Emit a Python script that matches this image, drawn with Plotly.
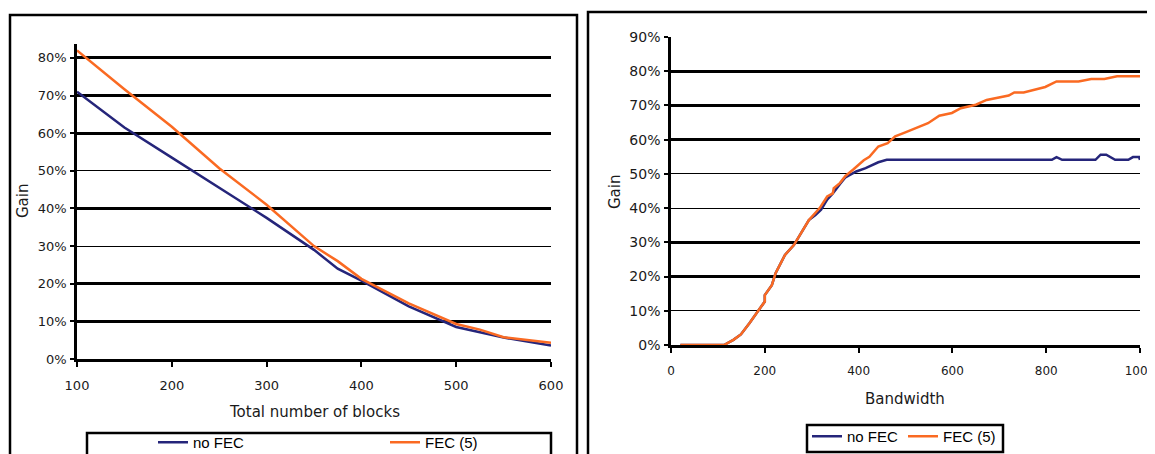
import plotly.graph_objects as go

W, H = 1155, 454
OFF = 8  # page body margin offset in the browser

# ---------------- data ----------------
# Left chart: Gain vs Total number of blocks
left_nofec_x = [100, 150, 200, 250, 300, 350, 375, 400, 450, 500, 525, 550, 600]
left_nofec_y = [0.71, 0.615, 0.535, 0.455, 0.375, 0.29, 0.24, 0.208, 0.14, 0.085, 0.072, 0.057, 0.036]
left_fec_x = [100, 150, 200, 250, 300, 325, 350, 375, 400, 450, 500, 525, 550, 600]
left_fec_y = [0.82, 0.717, 0.617, 0.507, 0.41, 0.355, 0.30, 0.26, 0.213, 0.148, 0.093, 0.078, 0.058, 0.043]

# Right chart: Gain vs Bandwidth
right_nofec_x = [20, 113, 133, 149, 168, 184, 200, 200, 215, 223, 243, 262, 282, 294, 308, 320,
                 333, 345, 360, 372, 395, 415, 442, 460, 812, 822, 834, 905, 916, 928, 947, 975,
                 985, 998, 1000]
right_nofec_y = [0, 0, 0.015, 0.031, 0.065, 0.097, 0.127, 0.146, 0.175, 0.21, 0.263, 0.292, 0.336,
                 0.365, 0.38, 0.395, 0.425, 0.443, 0.47, 0.49, 0.507, 0.517, 0.534, 0.541, 0.541,
                 0.549, 0.541, 0.541, 0.556, 0.556, 0.541, 0.541, 0.549, 0.549, 0.541]
right_fec_x = [20, 113, 133, 149, 168, 184, 200, 200, 215, 223, 243, 262, 282, 294, 317, 333, 345,
               347, 360, 372, 388, 411, 423, 442, 462, 478, 497, 521, 548, 572, 599, 618, 650, 673,
               720, 732, 752, 798, 822, 869, 896, 924, 951, 1000]
right_fec_y = [0, 0, 0.015, 0.031, 0.065, 0.097, 0.127, 0.146, 0.175, 0.21, 0.263, 0.292, 0.336,
               0.365, 0.40, 0.434, 0.443, 0.458, 0.473, 0.494, 0.512, 0.54, 0.55, 0.58, 0.59, 0.61,
               0.62, 0.634, 0.648, 0.67, 0.678, 0.692, 0.702, 0.716, 0.729, 0.738, 0.738, 0.754,
               0.77, 0.77, 0.777, 0.777, 0.785, 0.785]

left_xticks = [100, 200, 300, 400, 500, 600]
left_yticks = [0, 0.1, 0.2, 0.3, 0.4, 0.5, 0.6, 0.7, 0.8]
left_ylabels = ["0%", "10%", "20%", "30%", "40%", "50%", "60%", "70%", "80%"]
right_xticks = [0, 200, 400, 600, 800, 1000]
right_yticks = [0, 0.1, 0.2, 0.3, 0.4, 0.5, 0.6, 0.7, 0.8, 0.9]
right_ylabels = ["0%", "10%", "20%", "30%", "40%", "50%", "60%", "70%", "80%", "90%"]

series_names = ["no FEC", "FEC (5)"]
BLUE = "#25257A"
ORANGE = "#FA6A22"

# ---------------- helpers ----------------
def px(x):
    return (x - OFF) / W

def py(y):
    return 1 - (y - OFF) / H

TICKFONT = "'DejaVu Sans', sans-serif"
LEGFONT = "'Liberation Sans', Arial, sans-serif"
TXT = "#1a1a1a"

fig = go.Figure()
fig.add_trace(go.Scatter(x=left_nofec_x, y=left_nofec_y, mode="lines", name=series_names[0],
                         line=dict(color=BLUE, width=2.5), xaxis="x", yaxis="y", legend="legend"))
fig.add_trace(go.Scatter(x=left_fec_x, y=left_fec_y, mode="lines", name=series_names[1],
                         line=dict(color=ORANGE, width=2.5), xaxis="x", yaxis="y", legend="legend"))
fig.add_trace(go.Scatter(x=right_nofec_x, y=right_nofec_y, mode="lines", name=series_names[0],
                         line=dict(color=BLUE, width=2.5), xaxis="x2", yaxis="y2", legend="legend2"))
fig.add_trace(go.Scatter(x=right_fec_x, y=right_fec_y, mode="lines", name=series_names[1],
                         line=dict(color=ORANGE, width=2.5), xaxis="x2", yaxis="y2", legend="legend2"))

# empty helper traces so the grid-only overlay axes get drawn
for xa, ya in [("x", "y3"), ("x", "y4"), ("x2", "y5"), ("x2", "y6"), ("x2", "y7")]:
    fig.add_trace(go.Scatter(x=[None], y=[None], mode="lines", xaxis=xa, yaxis=ya,
                             showlegend=False, hoverinfo="skip"))

common_x = dict(showline=True, linewidth=2.5, linecolor="black", ticks="outside", ticklen=5,
                tickwidth=2, tickcolor="black", showgrid=False, zeroline=False, automargin=False,
                ticklabelstandoff=8, ticklabeloverflow="allow")
common_y = dict(showline=True, linewidth=2.5, linecolor="black", ticks="outside", ticklen=4,
                tickwidth=2, tickcolor="black", showgrid=False, zeroline=False, automargin=False,
                ticklabelstandoff=1, ticklabeloverflow="allow")

def grid_axis(over, anchor, rng, vals, width, color):
    return dict(overlaying=over, anchor=anchor, range=rng, tickmode="array", tickvals=vals,
                showticklabels=False, ticks="", showline=False, zeroline=False, showgrid=True,
                gridcolor=color, gridwidth=width, automargin=False, fixedrange=True)

LRANGE = [0, 0.837]
RRANGE = [0, 0.9]

fig.update_layout(
    width=W, height=H,
    margin=dict(l=0, r=0, t=0, b=0),
    paper_bgcolor="white", plot_bgcolor="rgba(0,0,0,0)",
    xaxis=dict(domain=[px(77), px(551)], range=[100, 600], tickmode="array", tickvals=left_xticks,
               anchor="y", tickfont=dict(family=TICKFONT, size=13, color=TXT), **common_x),
    yaxis=dict(domain=[py(359), py(44)], range=LRANGE, tickmode="array", tickvals=left_yticks,
               ticktext=left_ylabels, anchor="x",
               tickfont=dict(family=TICKFONT, size=13, color=TXT), **common_y),
    yaxis3=grid_axis("y", "x", LRANGE, [0.3, 0.5], 1.3, "black"),
    yaxis4=grid_axis("y", "x", LRANGE, [0.1, 0.2, 0.4, 0.6, 0.7, 0.8], 2.5, "black"),
    xaxis2=dict(domain=[px(671), px(1140)], range=[0, 1000], tickmode="array", tickvals=right_xticks,
                anchor="y2", tickfont=dict(family=TICKFONT, size=12, color=TXT), **common_x),
    yaxis2=dict(domain=[py(345), py(37)], range=RRANGE, tickmode="array", tickvals=right_yticks,
                ticktext=right_ylabels, anchor="x2",
                tickfont=dict(family=TICKFONT, size=14, color=TXT), **common_y),
    yaxis5=grid_axis("y2", "x2", RRANGE, [0.1, 0.4, 0.5], 1.3, "black"),
    yaxis6=grid_axis("y2", "x2", RRANGE, [0.2, 0.3, 0.6, 0.7, 0.8], 2.5, "black"),
    yaxis7=grid_axis("y2", "x2", RRANGE, [0.9], 1.2, "#c8c8c8"),
    legend=dict(orientation="h", x=px(153), xanchor="left", y=py(426), yanchor="top",
                bgcolor="rgba(0,0,0,0)", borderwidth=0, entrywidth=187, entrywidthmode="pixels",
                font=dict(family=LEGFONT, size=15, color="black"), traceorder="normal"),
    legend2=dict(orientation="h", x=px(807), xanchor="left", y=py(420), yanchor="top",
                 bgcolor="rgba(0,0,0,0)", borderwidth=0,
                 font=dict(family=LEGFONT, size=15, color="black"), traceorder="normal"),
    showlegend=True,
)

# Chart frames and legend boxes
frame = dict(type="rect", xref="paper", yref="paper", line=dict(color="black", width=2.5),
             fillcolor="rgba(0,0,0,0)", layer="above")
fig.add_shape(x0=px(10), x1=px(577), y0=py(15), y1=py(480), **frame)
fig.add_shape(x0=px(588), x1=px(1185), y0=py(12), y1=py(480), **frame)
fig.add_shape(x0=px(87), x1=px(551), y0=py(433), y1=py(480), **frame)
fig.add_shape(x0=px(807), x1=px(1003), y0=py(425), y1=py(452), **frame)

# Axis titles
tfont = dict(family=TICKFONT, size=15, color=TXT)
ann = dict(xref="paper", yref="paper", showarrow=False, font=tfont, xanchor="center", yanchor="middle")
fig.add_annotation(text="Gain", x=px(23), y=py(201), textangle=-90, **ann)
fig.add_annotation(text="Total number of blocks", x=px(314), y=py(412), **ann)
fig.add_annotation(text="Gain", x=px(615), y=py(192), textangle=-90, **ann)
fig.add_annotation(text="Bandwidth", x=px(905), y=py(399), **ann)

fig.write_html("out.html")
